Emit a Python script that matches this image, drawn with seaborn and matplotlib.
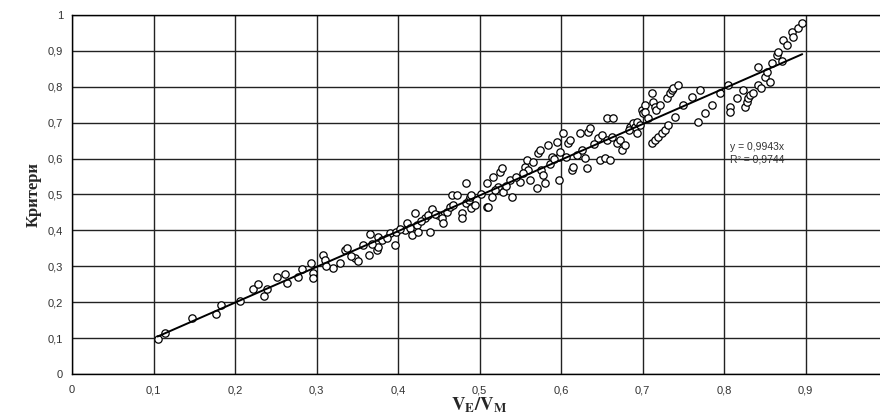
import numpy as np
import pandas as pd
import matplotlib
matplotlib.use("Agg")
import matplotlib.pyplot as plt
import seaborn as sns

sns.set_style("white")
plt.rcParams["font.family"] = ["Liberation Sans", "DejaVu Sans"]
plt.rcParams["mathtext.fontset"] = "stix"

# данные
ve_vm = [
    0.105, 0.114, 0.147, 0.177, 0.183, 0.206, 0.222, 0.228, 0.236, 0.239,
    0.251, 0.261, 0.264, 0.277, 0.282, 0.293, 0.296, 0.296, 0.308, 0.310,
    0.320, 0.329, 0.335, 0.337, 0.347, 0.351, 0.357, 0.365, 0.366, 0.374,
    0.375, 0.376, 0.380, 0.390, 0.396, 0.398, 0.409, 0.411, 0.415, 0.417,
    0.421, 0.423, 0.425, 0.433, 0.437, 0.439, 0.442, 0.449, 0.454, 0.455,
    0.460, 0.464, 0.466, 0.472, 0.478, 0.478, 0.484, 0.484, 0.487, 0.488,
    0.490, 0.490, 0.509, 0.509, 0.510, 0.515, 0.517, 0.523, 0.525, 0.528,
    0.529, 0.537, 0.540, 0.550, 0.556, 0.558, 0.560, 0.562, 0.570, 0.572,
    0.574, 0.576, 0.578, 0.580, 0.584, 0.589, 0.595, 0.597, 0.597, 0.599,
    0.603, 0.609, 0.611, 0.613, 0.615, 0.620, 0.623, 0.629, 0.632, 0.633,
    0.636, 0.646, 0.648, 0.650, 0.654, 0.656, 0.656, 0.660, 0.664, 0.669,
    0.672, 0.675, 0.679, 0.685, 0.688, 0.691, 0.693, 0.693, 0.697, 0.699,
    0.701, 0.703, 0.703, 0.707, 0.712, 0.712, 0.713, 0.715, 0.715, 0.717,
    0.719, 0.721, 0.724, 0.728, 0.730, 0.731, 0.734, 0.736, 0.737, 0.740,
    0.744, 0.750, 0.761, 0.768, 0.771, 0.777, 0.785, 0.795, 0.805, 0.807,
    0.807, 0.816, 0.823, 0.826, 0.828, 0.830, 0.832, 0.836, 0.842, 0.842,
    0.846, 0.850, 0.853, 0.856, 0.859, 0.865, 0.866, 0.871, 0.872, 0.877,
    0.883, 0.885, 0.891, 0.896,
    0.312, 0.342, 0.368, 0.386, 0.402, 0.428, 0.446, 0.468, 0.495, 0.502,
    0.519, 0.533, 0.545, 0.553, 0.566, 0.586, 0.592, 0.606, 0.626, 0.641,
    0.662, 0.683,
]
kriteri = [
    0.097, 0.114, 0.156, 0.167, 0.192, 0.203, 0.237, 0.250, 0.217, 0.236,
    0.270, 0.279, 0.253, 0.270, 0.292, 0.309, 0.280, 0.267, 0.331, 0.317,
    0.295, 0.309, 0.345, 0.351, 0.323, 0.315, 0.359, 0.331, 0.390, 0.345,
    0.354, 0.382, 0.373, 0.393, 0.359, 0.396, 0.401, 0.420, 0.407, 0.387,
    0.448, 0.415, 0.396, 0.435, 0.443, 0.396, 0.460, 0.443, 0.434, 0.420,
    0.451, 0.465, 0.498, 0.498, 0.448, 0.434, 0.532, 0.476, 0.485, 0.493,
    0.498, 0.462, 0.532, 0.465, 0.465, 0.493, 0.549, 0.521, 0.563, 0.574,
    0.507, 0.540, 0.493, 0.535, 0.577, 0.596, 0.568, 0.540, 0.518, 0.616,
    0.624, 0.568, 0.554, 0.532, 0.638, 0.604, 0.646, 0.540, 0.604, 0.618,
    0.671, 0.643, 0.652, 0.568, 0.577, 0.610, 0.671, 0.602, 0.574, 0.674,
    0.685, 0.657, 0.596, 0.666, 0.602, 0.713, 0.652, 0.596, 0.713, 0.643,
    0.652, 0.624, 0.638, 0.688, 0.699, 0.688, 0.671, 0.702, 0.694, 0.735,
    0.727, 0.749, 0.730, 0.713, 0.783, 0.643, 0.758, 0.744, 0.652, 0.735,
    0.660, 0.749, 0.671, 0.680, 0.769, 0.694, 0.783, 0.791, 0.797, 0.716,
    0.805, 0.749, 0.772, 0.702, 0.791, 0.727, 0.749, 0.783, 0.805, 0.744,
    0.730, 0.769, 0.791, 0.744, 0.758, 0.769, 0.777, 0.783, 0.855, 0.805,
    0.797, 0.827, 0.841, 0.813, 0.866, 0.889, 0.897, 0.872, 0.930, 0.916,
    0.953, 0.939, 0.964, 0.978,
    0.300, 0.330, 0.362, 0.380, 0.405, 0.425, 0.447, 0.470, 0.470, 0.500,
    0.512, 0.525, 0.548, 0.560, 0.590, 0.585, 0.600, 0.605, 0.625, 0.640,
    0.660, 0.680,
]
slope = 0.9943
r2 = 0.9744
ticks = [0, 0.1, 0.2, 0.3, 0.4, 0.5, 0.6, 0.7, 0.8, 0.9, 1]
tick_labels = ["0", "0,1", "0,2", "0,3", "0,4", "0,5", "0,6", "0,7", "0,8", "0,9", "1"]

df = pd.DataFrame({"x": ve_vm, "y": kriteri})

fig = plt.figure(figsize=(8.8, 4.19), dpi=100)
ax = fig.add_axes([72 / 880, 1 - 374 / 419, 815 / 880, 359 / 419])

sns.scatterplot(data=df, x="x", y="y", ax=ax, marker="o", s=28,
                facecolor="white", edgecolor="black", linewidth=0.9, zorder=3)

# линия тренда через начало координат
xl = np.array([df["x"].min(), df["x"].max()])
ax.plot(xl, slope * xl, color="black", lw=1.4, zorder=4)

ax.set_xlim(0, 1)
ax.set_ylim(0, 1)
ax.set_xticks(ticks)
ax.set_yticks(ticks)
ax.set_xticklabels(tick_labels)
ax.set_yticklabels(tick_labels)
ax.tick_params(axis="both", direction="out", length=3, width=1, colors="black",
               labelsize=8, labelcolor="#333333")
ax.tick_params(axis="x", pad=5)
ax.grid(True, color="#222222", lw=1.0, zorder=0)
ax.set_axisbelow(True)
for s in ax.spines.values():
    s.set_color("black")
    s.set_linewidth(1.0)

ax.set_xlabel(r"$\mathbf{V_E/V_M}$", fontsize=13.5, labelpad=0)
ax.set_ylabel("Критери", fontsize=12, fontweight="bold",
              family=["Liberation Serif", "DejaVu Serif"], labelpad=4)

ax.text(0.807, 0.632, "y = " + f"{slope:.4f}".replace(".", ",") + "x",
        fontsize=7.5, color="#333333", va="center")
ax.text(0.807, 0.598, "R² = " + f"{r2:.4f}".replace(".", ","),
        fontsize=7.5, color="#333333", va="center")

fig.savefig("out.png", dpi=100)
